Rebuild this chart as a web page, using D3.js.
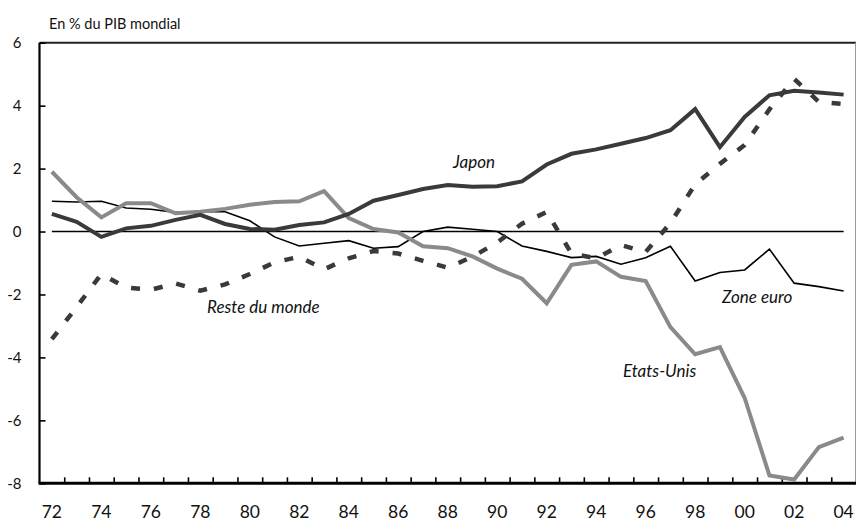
<!DOCTYPE html>
<html>
<head>
<meta charset="utf-8">
<script src="https://cdn.jsdelivr.net/npm/d3@7"></script>
<style>
  body { margin: 0; background: #fff; }
  svg { display: block; font-family: Lato, "Open Sans", sans-serif; }
</style>
</head>
<body>
<svg id="chart" width="856" height="522"></svg>
<script>
const years = ["72","73","74","75","76","77","78","79","80","81","82","83","84","85","86","87","88","89","90","91","92","93","94","95","96","97","98","99","00","01","02","03","04"];
const tickLabels = ["72","74","76","78","80","82","84","86","88","90","92","94","96","98","00","02","04"];
const yTicks = [-8,-6,-4,-2,0,2,4,6];

const etatsUnis = [1.9,1.09,0.45,0.9,0.9,0.58,0.63,0.72,0.85,0.94,0.96,1.28,0.43,0.08,-0.03,-0.47,-0.53,-0.79,-1.18,-1.5,-2.28,-1.06,-0.95,-1.44,-1.57,-3.04,-3.9,-3.67,-5.29,-7.75,-7.88,-6.85,-6.55];
const japon = [0.56,0.31,-0.17,0.1,0.18,0.37,0.53,0.24,0.08,0.06,0.21,0.29,0.56,0.98,1.16,1.35,1.48,1.42,1.44,1.59,2.13,2.47,2.61,2.79,2.97,3.22,3.89,2.68,3.64,4.33,4.47,4.42,4.35];
const zoneEuro = [0.96,0.94,0.96,0.75,0.71,0.61,0.63,0.63,0.34,-0.17,-0.46,-0.37,-0.29,-0.53,-0.48,0.0,0.14,0.07,0.0,-0.46,-0.63,-0.83,-0.79,-1.04,-0.83,-0.47,-1.57,-1.3,-1.22,-0.56,-1.64,-1.75,-1.89];
const resteMonde = [-3.42,-2.4,-1.35,-1.78,-1.85,-1.65,-1.88,-1.68,-1.35,-0.98,-0.8,-1.2,-0.85,-0.62,-0.7,-0.93,-1.15,-0.8,-0.35,0.25,0.62,-0.7,-0.85,-0.43,-0.65,0.27,1.5,2.15,2.75,3.88,4.85,4.12,4.05];

const svg = d3.select("#chart");
const mLeft = 39.5, mRight = 856, mTop = 42.7, mBottom = 483.3;

const x = d3.scaleBand().domain(years).range([mLeft, mRight]).padding(0);
const xEdge = d3.scaleLinear().domain([0, years.length]).range([mLeft, mRight]);
const y = d3.scaleLinear().domain([-8, 6]).range([mBottom, mTop]);
const cx = d => x(d) + x.bandwidth() / 2;

// frame: top and right
svg.append("line").attr("x1", mLeft).attr("x2", mRight).attr("y1", mTop).attr("y2", mTop)
  .attr("stroke", "#222").attr("stroke-width", 2);
svg.append("line").attr("x1", mRight - 0.5).attr("x2", mRight - 0.5).attr("y1", mTop).attr("y2", mBottom)
  .attr("stroke", "#999").attr("stroke-width", 1);

// zero line
svg.append("line").attr("x1", cx(years[0])).attr("x2", cx(years[years.length - 1]))
  .attr("y1", y(0)).attr("y2", y(0)).attr("stroke", "#000").attr("stroke-width", 1.6);

// y axis
const yAxis = svg.append("g").attr("transform", `translate(${mLeft},0)`)
  .call(d3.axisLeft(y).tickValues(yTicks).tickSize(-6).tickPadding(18).tickFormat(d3.format("d")));
yAxis.select(".domain").attr("stroke", "#000").attr("stroke-width", 2.2).attr("d", `M0,${mTop}V${mBottom}`);
yAxis.selectAll(".tick line").attr("stroke", "#000").attr("stroke-width", 1.6);
yAxis.selectAll(".tick text").attr("font-size", 15).attr("fill", "#111")
  .attr("font-family", "Lato, sans-serif").text(d => d < 0 ? "-" + Math.abs(d) : d);

// x axis tick marks at band edges
const xTickAxis = svg.append("g").attr("transform", `translate(0,${mBottom})`)
  .call(d3.axisBottom(xEdge).tickValues(d3.range(1, years.length)).tickSize(-6).tickFormat(""));
xTickAxis.select(".domain").attr("stroke", "#000").attr("stroke-width", 3).attr("d", `M${mLeft - 1},0H${mRight}`);
xTickAxis.selectAll(".tick line").attr("stroke", "#000").attr("stroke-width", 1.6);

// x labels centred on bands
const xLabelAxis = svg.append("g").attr("transform", `translate(0,${mBottom})`)
  .call(d3.axisBottom(x).tickValues(tickLabels).tickSize(0).tickPadding(0));
xLabelAxis.select(".domain").remove();
xLabelAxis.selectAll(".tick text").attr("font-size", 17.5).attr("fill", "#111")
  .attr("font-family", "Lato, sans-serif").attr("dy", null).attr("y", 34.5);

// lines
const line = d3.line().x((d, i) => cx(years[i])).y(d => y(d));

svg.append("path").datum(zoneEuro).attr("d", line)
  .attr("fill", "none").attr("stroke", "#000").attr("stroke-width", 1.6).attr("stroke-linejoin", "miter");
svg.append("path").datum(etatsUnis).attr("d", line)
  .attr("fill", "none").attr("stroke", "#8a8a8a").attr("stroke-width", 4).attr("stroke-linejoin", "miter");
svg.append("path").datum(japon).attr("d", line)
  .attr("fill", "none").attr("stroke", "#3a3a3a").attr("stroke-width", 4).attr("stroke-linejoin", "miter");
svg.append("path").datum(resteMonde).attr("d", line)
  .attr("fill", "none").attr("stroke", "#3a3a3a").attr("stroke-width", 4.5)
  .attr("stroke-dasharray", "9,14").attr("stroke-linejoin", "miter");

// title
svg.append("text").attr("x", 49).attr("y", 28.5).attr("font-size", 14.5).attr("fill", "#111")
  .text("En % du PIB mondial");

// series labels
const labels = [
  {t: "Japon", x: 453, y: 168},
  {t: "Reste du monde", x: 207, y: 313},
  {t: "Zone euro", x: 722, y: 303},
  {t: "Etats-Unis", x: 623, y: 377}
];
svg.selectAll("text.lbl").data(labels).enter().append("text").attr("class", "lbl")
  .attr("x", d => d.x).attr("y", d => d.y).attr("font-size", 17).attr("font-style", "italic")
  .attr("fill", "#111").text(d => d.t);
</script>
</body>
</html>
